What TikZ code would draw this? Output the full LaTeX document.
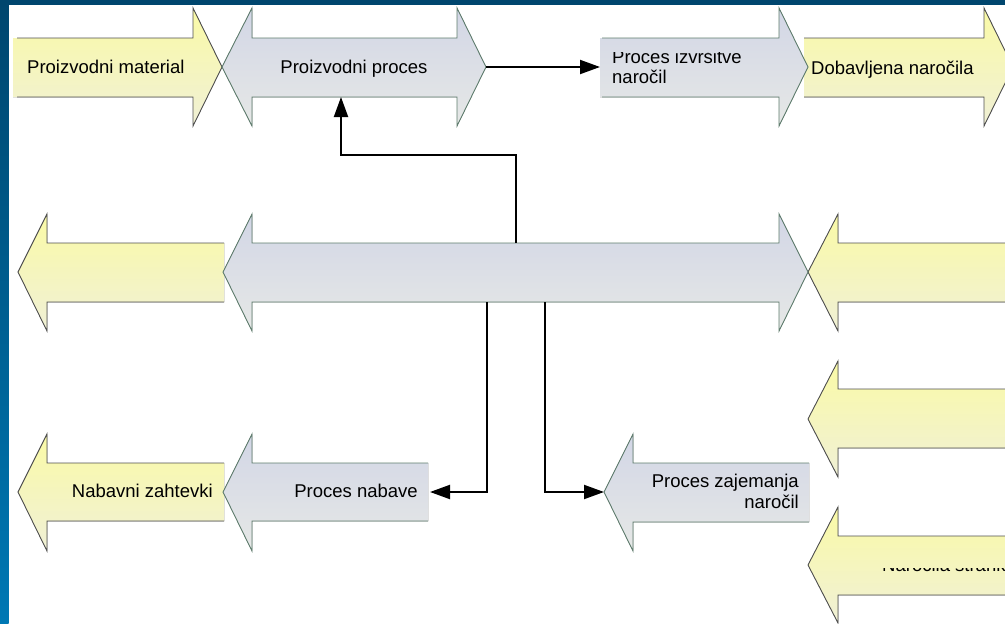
\documentclass[tikz,border=0pt]{standalone}
\usepackage{fontspec}
\setmainfont{Liberation Sans}
\usetikzlibrary{arrows.meta}

\definecolor{frameDark}{RGB}{0,70,110}
\definecolor{frameLight}{RGB}{0,120,180}
\definecolor{yelTop}{RGB}{250,250,166}
\definecolor{yelBot}{RGB}{240,240,214}
\definecolor{bluTop}{RGB}{210,214,230}
\definecolor{bluBot}{RGB}{230,232,230}
\definecolor{bluLine}{RGB}{95,125,110}
\definecolor{yelLine}{RGB}{80,80,80}

\tikzset{
  yelfill/.style={top color=yelTop, bottom color=yelBot, draw=none},
  blufill/.style={top color=bluTop, bottom color=bluBot, draw=none},
  yeledge/.style={draw=yelLine, line width=0.9pt},
  bluedge/.style={draw=bluLine, line width=0.9pt},
  lbl/.style={inner sep=0pt, font=\fontsize{18.5}{20}\selectfont},
  conn/.style={line width=2pt, -{Triangle[length=20pt,width=14pt]}}
}

\begin{document}
\begin{tikzpicture}[x=1pt, y=-1pt]
\useasboundingbox (0,0) rectangle (1005,624);
\clip (0,0) rectangle (1005,624);
\fill[white] (0,0) rectangle (1005,624);

% top row
\fill[yelfill] (13,38) -- (193,38) -- (193,8) -- (222,67) -- (193,126) -- (193,97) -- (13,97) -- cycle;
\draw[yeledge] (17,38) -- (193,38) -- (193,8) -- (222,67) -- (193,126) -- (193,97) -- (17,97);
\fill[blufill] (222,67) -- (252,8) -- (252,38) -- (457,38) -- (457,8) -- (486,67) -- (457,126) -- (457,97) -- (252,97) -- (252,126) -- cycle;
\draw[bluedge] (222,67) -- (252,8) -- (252,38) -- (457,38) -- (457,8) -- (486,67) -- (457,126) -- (457,97) -- (252,97) -- (252,126) -- cycle;
\fill[yelfill] (804,38) -- (984,38) -- (984,8) -- (1013,67) -- (984,126) -- (984,97) -- (804,97) -- cycle;
\draw[yeledge] (804,38) -- (984,38) -- (984,8) -- (1013,67) -- (984,126) -- (984,97) -- (804,97);
\fill[blufill] (600,38) -- (779,38) -- (779,8) -- (808,67) -- (779,126) -- (779,97) -- (600,97) -- cycle;
\draw[bluedge] (602,38) -- (779,38) -- (779,8) -- (808,67) -- (779,126) -- (779,97) -- (602,97);

% middle row
\fill[yelfill] (18,272) -- (47,214) -- (47,243) -- (224,243) -- (224,302) -- (47,302) -- (47,331) -- cycle;
\draw[yeledge] (224,243) -- (47,243) -- (47,214) -- (18,272) -- (47,331) -- (47,302) -- (224,302);
\fill[yelfill] (808,272) -- (838,214) -- (838,243) -- (1010,243) -- (1010,302) -- (838,302) -- (838,331) -- cycle;
\draw[yeledge] (1010,243) -- (838,243) -- (838,214) -- (808,272) -- (838,331) -- (838,302) -- (1010,302);
\fill[blufill] (223,272) -- (252,214) -- (252,243) -- (779,243) -- (779,214) -- (808,272) -- (779,331) -- (779,302) -- (252,302) -- (252,331) -- cycle;
\draw[bluedge] (223,272) -- (252,214) -- (252,243) -- (779,243) -- (779,214) -- (808,272) -- (779,331) -- (779,302) -- (252,302) -- (252,331) -- cycle;

% right column
\fill[yelfill] (808,419) -- (838,361) -- (838,389) -- (1010,389) -- (1010,448) -- (838,448) -- (838,477) -- cycle;
\draw[yeledge] (1010,389) -- (838,389) -- (838,361) -- (808,419) -- (838,477) -- (838,448) -- (1010,448);
\fill[yelfill] (808,565) -- (838,507) -- (838,536) -- (1010,536) -- (1010,595) -- (838,595) -- (838,623) -- cycle;
\draw[yeledge] (1010,536) -- (838,536) -- (838,507) -- (808,565) -- (838,623) -- (838,595) -- (1010,595);

% bottom row
\fill[yelfill] (18,492) -- (47,434) -- (47,463) -- (224,463) -- (224,521) -- (47,521) -- (47,551) -- cycle;
\draw[yeledge] (224,463) -- (47,463) -- (47,434) -- (18,492) -- (47,551) -- (47,521) -- (224,521);
\fill[blufill] (223,492) -- (252,434) -- (252,463) -- (428,463) -- (428,521) -- (252,521) -- (252,551) -- cycle;
\draw[bluedge] (428,463) -- (252,463) -- (252,434) -- (223,492) -- (252,551) -- (252,521) -- (428,521);
\fill[blufill] (604,492) -- (633,434) -- (633,463) -- (809,463) -- (809,522) -- (633,522) -- (633,551) -- cycle;
\draw[bluedge] (809,463) -- (633,463) -- (633,434) -- (604,492) -- (633,551) -- (633,522) -- (809,522);

% labels
\node[lbl, anchor=base west] (matTxt) at (27,73.5) {Proizvodni material};
\node[lbl, anchor=base] (procTxt) at (354,73.5) {Proizvodni proces};
\begin{scope}
\clip (600,52.5) rectangle (780,100);
\node[lbl, anchor=base west] (izvA) at (612,63) {Proces izvršitve};
\node[lbl, anchor=base west] (izvB) at (612,83) {naročil};
\end{scope}
\node[lbl, anchor=base west] (dobTxt) at (811,74) {Dobavljena naročila};
\node[lbl, anchor=base east] (zahTxt) at (213,497) {Nabavni zahtevki};
\node[lbl, anchor=base east] (nabTxt) at (418,497) {Proces nabave};
\node[lbl, anchor=base east] (zajA) at (799,487) {Proces zajemanja};
\node[lbl, anchor=base east] (zajB) at (799,508) {naročil};
\begin{scope}
\clip (838,568.4) rectangle (1005,571.4);
\node[lbl, anchor=base west] (strTxt) at (882,571) {Naročila stranke};
\end{scope}

% connectors
\coordinate (procOut) at (486,67);
\coordinate (izvIn) at (600,67);
\coordinate (midUp) at (516,243);
\coordinate (procIn) at (341,97);
\coordinate (midDownL) at (487,302);
\coordinate (nabIn) at (430,492);
\coordinate (midDownR) at (545,302);
\coordinate (zajIn) at (604,492);
\draw[conn] (procOut) -- (izvIn);
\draw[conn] (midUp) -- ++(0,-88) -| (procIn);
\draw[conn] (midDownL) |- (nabIn);
\draw[conn] (midDownR) |- (zajIn);

% frame
\fill[frameDark] (0,0) rectangle (1005,4.7);
\shade[top color=frameDark, bottom color=frameLight] (0,0) rectangle (8.7,624);
\end{tikzpicture}
\end{document}
